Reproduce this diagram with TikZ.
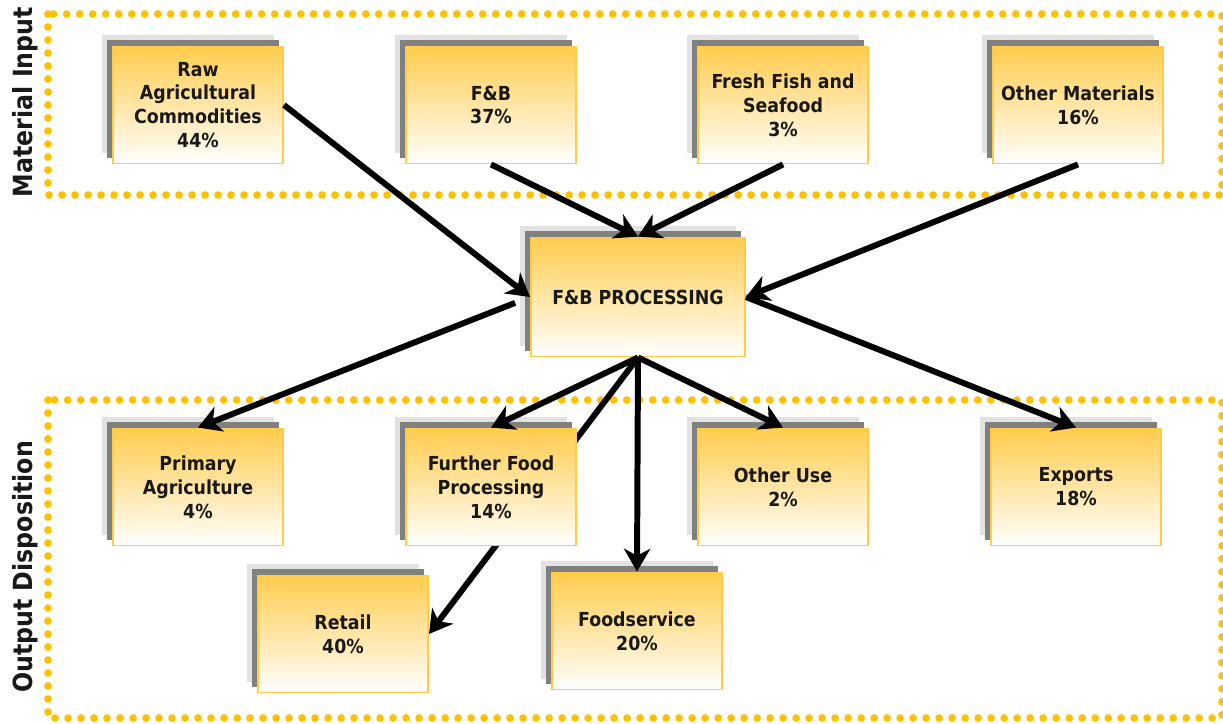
\documentclass[tikz,border=0pt]{standalone}
\usepackage{fontspec}
\setmainfont{DejaVu Sans Condensed}
\usetikzlibrary{arrows.meta,backgrounds}
\definecolor{boxtop}{HTML}{FFCC4D}
\definecolor{boxline}{HTML}{FFCC44}
\definecolor{dotline}{HTML}{FFC000}
\definecolor{shadowdark}{HTML}{808080}
\definecolor{shadowlight}{HTML}{E2E2E2}
\begin{document}
\begin{tikzpicture}[x=0.02cm,y=-0.02cm]
	\tikzstyle{block} = [rectangle,draw=boxline,line width=1.1pt,top color=boxtop,bottom color=white,minimum width=3.4cm,minimum height=2.34cm,align=center,text=black!90,font=\bfseries\fontsize{11}{13.6}\selectfont]
	\tikzstyle{frame} = [dotline,line width=4.4pt,line cap=round,dash pattern=on 0pt off 7.4pt]
	\tikzstyle{flow} = [-{Stealth[length=13pt,width=15pt,inset=4pt]},line width=3.4pt]
	\tikzstyle{side} = [rotate=90,text=black!90,font=\bfseries\fontsize{15}{18}\selectfont]
	\useasboundingbox (0,0) rectangle (1223,723);
	\node[side](input)at (25,102){Material Input};
	\node[side](output)at (25,567){Output Disposition};
	% input boxes
	\node[block](raw)at (198,105){Raw\\Agricultural\\Commodities\\44\%};
	\node[block](fb)at (491,105){F\&B\\37\%};
	\node[block](fish)at (783,105){Fresh Fish and\\Seafood\\3\%};
	\node[block](other)at (1078,105){Other Materials\\16\%};
	% processing
	\node[block,minimum width=4.28cm,minimum height=2.38cm](proc)at (638,297){F\&B PROCESSING};
	% output boxes
	\node[block](prim)at (198,487){Primary\\Agriculture\\4\%};
	\node[block](further)at (491,487){Further Food\\Processing\\14\%};
	\node[block](use)at (783,487){Other Use\\2\%};
	\node[block](exports)at (1076,487){Exports\\18\%};
	\node[block](retail)at (343,634){Retail\\40\%};
	\node[block](food)at (637,631){Foodservice\\20\%};
	\begin{scope}[on background layer]
	\draw[frame] (48,14) rectangle (1222,195);
	\draw[frame] (48,400) rectangle (1222,718);
	\draw[flow] (proc.south) -- (retail.east);
	\foreach \n in {raw,fb,fish,other,proc,prim,further,use,exports,retail,food}{
		\fill[shadowlight] ([shift={(-10,-11)}]\n.south west) rectangle ([shift={(-10,-11)}]\n.north east);
		\fill[shadowdark] ([shift={(-5,-6)}]\n.south west) rectangle ([shift={(-5,-6)}]\n.north east);
	}
	\end{scope}
	\draw[flow] (raw.east) -- (proc.west);
	\draw[flow] (fb.south) -- (proc.north);
	\draw[flow] (fish.south) -- (proc.north);
	\draw[flow] (other.south) -- (proc.east);
	\draw[flow,shorten <=0.32cm] (proc.west) -- (prim.north);
	\draw[flow] (proc.south) -- (further.north);
	\draw[flow] (proc.south) -- (food.north);
	\draw[flow] (proc.south) -- (use.north);
	\draw[flow] (proc.east) -- (exports.north);
\end{tikzpicture}
\end{document}
